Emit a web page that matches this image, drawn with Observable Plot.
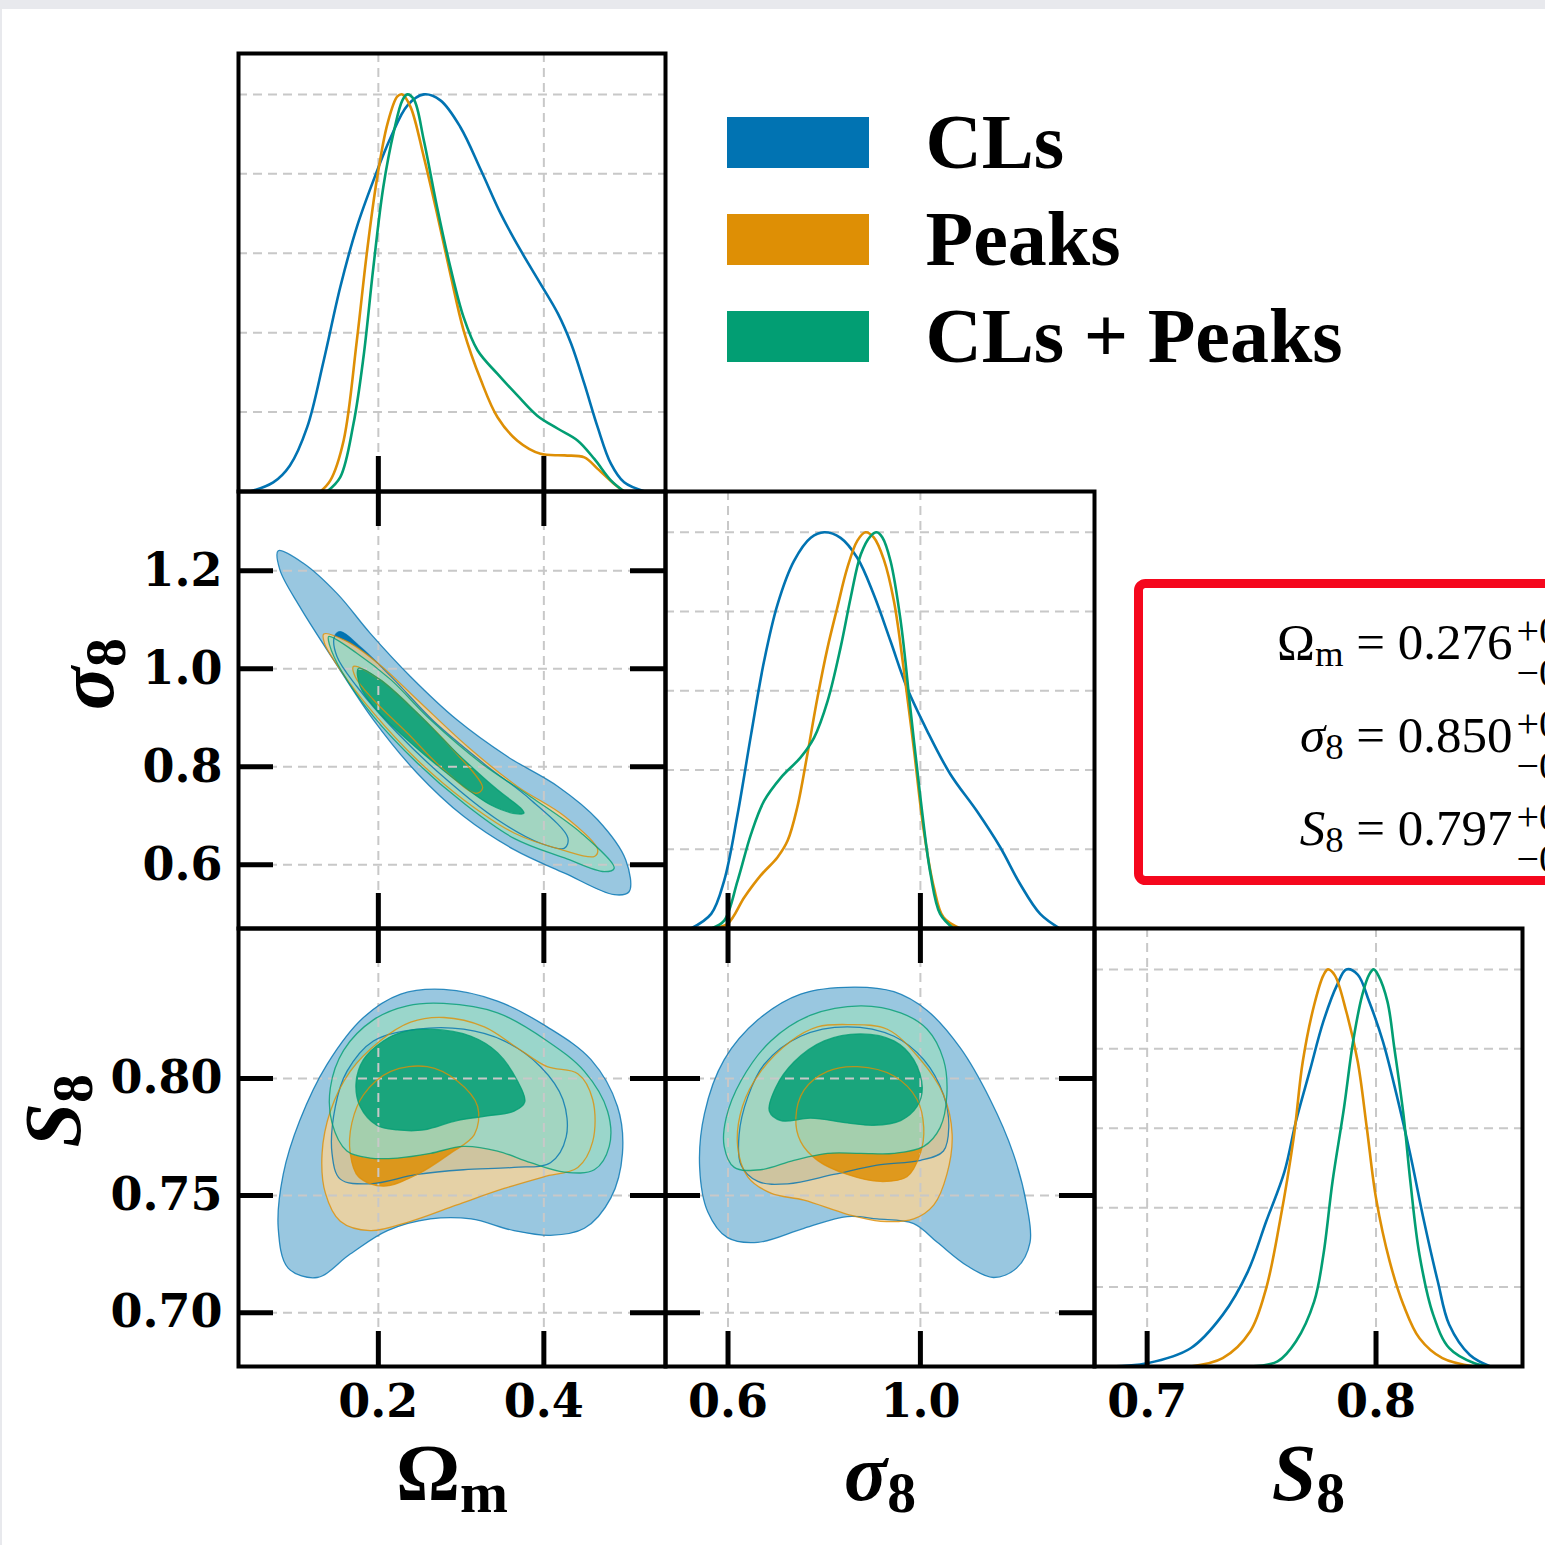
<!DOCTYPE html>
<html>
<head>
<meta charset="utf-8">
<script src="https://cdn.jsdelivr.net/npm/d3@7"></script>
<script src="https://cdn.jsdelivr.net/npm/@observablehq/plot@0.6"></script>
<style>
  html, body { margin: 0; padding: 0; overflow: hidden; background: #e8e9ed; }
  #page { position: relative; width: 1545px; height: 1545px; }
  #sheet { position: absolute; left: 2px; top: 9px; right: 0; bottom: 0; background: #ffffff; }
  #page svg { position: absolute; overflow: visible; max-width: none; }
</style>
</head>
<body>
<div id="page"><div id="sheet"></div></div>
<script>
// ---------------------------------------------------------------
// Samples and palette
// ---------------------------------------------------------------
const series = ["CLs", "Peaks", "CLs + Peaks"];
const seriesColors = ["#0173b2", "#de8f05", "#029e73"];

// Parameter ranges
const omDomain = [0.031, 0.547];
const sigDomain = [0.470, 1.362];
const s8Domain = [0.677, 0.864];
const densDomain = [0, 1.103];

// Ticks
const omTicks = [0.2, 0.4];
const sigTicksX = [0.6, 1.0];
const sigTicksY = [0.6, 0.8, 1.0, 1.2];
const s8TicksY = [0.70, 0.75, 0.80];
const s8TicksX = [0.7, 0.8];
const densGrid = [0.2, 0.4, 0.6, 0.8, 1.0];

// Marginal posteriors (normalised to peak = 1): [value, density]
const omDens_CLs = [[0.045,0],[0.073,0.023],[0.093,0.065],[0.114,0.162],[0.134,0.330],[0.154,0.515],[0.174,0.666],[0.194,0.783],[0.215,0.892],[0.235,0.972],[0.255,1.0],[0.275,0.985],[0.299,0.918],[0.324,0.809],[0.348,0.699],[0.372,0.607],[0.396,0.523],[0.417,0.448],[0.433,0.372],[0.449,0.271],[0.465,0.162],[0.481,0.070],[0.497,0.023],[0.522,0]];
const omDens_Peaks = [[0.130,0],[0.142,0.028],[0.158,0.128],[0.174,0.380],[0.186,0.599],[0.198,0.783],[0.211,0.926],[0.223,0.995],[0.229,1.0],[0.239,0.968],[0.255,0.842],[0.271,0.699],[0.287,0.548],[0.303,0.406],[0.324,0.280],[0.344,0.187],[0.368,0.128],[0.396,0.095],[0.425,0.091],[0.449,0.086],[0.465,0.057],[0.485,0.019],[0.497,0]];
const omDens_Both = [[0.138,0],[0.154,0.036],[0.170,0.171],[0.182,0.338],[0.194,0.565],[0.206,0.767],[0.219,0.909],[0.229,0.985],[0.235,1.0],[0.243,0.987],[0.255,0.884],[0.271,0.716],[0.287,0.565],[0.303,0.439],[0.320,0.355],[0.344,0.296],[0.368,0.242],[0.392,0.191],[0.417,0.158],[0.441,0.128],[0.461,0.082],[0.481,0.028],[0.497,0]];

const sigDens_CLs = [[0.523,0],[0.565,0.037],[0.592,0.121],[0.620,0.289],[0.648,0.490],[0.675,0.675],[0.703,0.818],[0.737,0.927],[0.772,0.986],[0.800,1.0],[0.834,0.986],[0.869,0.935],[0.903,0.843],[0.938,0.725],[0.972,0.608],[1.014,0.499],[1.062,0.390],[1.117,0.297],[1.166,0.205],[1.207,0.113],[1.249,0.037],[1.290,0]];
const sigDens_Peaks = [[0.565,0],[0.599,0.012],[0.634,0.079],[0.668,0.134],[0.703,0.180],[0.724,0.222],[0.744,0.306],[0.765,0.440],[0.786,0.583],[0.807,0.709],[0.827,0.809],[0.848,0.910],[0.869,0.979],[0.886,1.0],[0.903,0.987],[0.924,0.931],[0.945,0.826],[0.965,0.658],[0.986,0.457],[1.007,0.247],[1.028,0.104],[1.048,0.028],[1.083,0]];
const sigDens_Both = [[0.565,0],[0.592,0.020],[0.620,0.121],[0.648,0.239],[0.675,0.322],[0.710,0.381],[0.751,0.432],[0.779,0.482],[0.807,0.574],[0.834,0.709],[0.855,0.835],[0.876,0.944],[0.896,0.990],[0.909,1.0],[0.921,0.987],[0.938,0.927],[0.959,0.776],[0.979,0.557],[1.000,0.331],[1.021,0.138],[1.041,0.037],[1.069,0]];

const s8Dens_CLs = [[0.684,0],[0.700,0.008],[0.719,0.046],[0.733,0.130],[0.744,0.239],[0.752,0.365],[0.760,0.491],[0.765,0.617],[0.771,0.743],[0.777,0.869],[0.783,0.961],[0.787,1.0],[0.792,0.987],[0.797,0.919],[0.803,0.819],[0.809,0.684],[0.815,0.533],[0.821,0.365],[0.827,0.214],[0.832,0.105],[0.841,0.029],[0.850,0]];
const s8Dens_Peaks = [[0.719,0],[0.733,0.021],[0.745,0.088],[0.752,0.197],[0.758,0.365],[0.764,0.575],[0.768,0.768],[0.773,0.911],[0.777,0.985],[0.779,1.0],[0.782,0.985],[0.787,0.894],[0.792,0.768],[0.796,0.600],[0.800,0.424],[0.806,0.264],[0.812,0.155],[0.819,0.071],[0.829,0.021],[0.843,0]];
const s8Dens_Both = [[0.745,0],[0.757,0.013],[0.765,0.063],[0.773,0.164],[0.777,0.281],[0.781,0.466],[0.786,0.651],[0.790,0.819],[0.794,0.936],[0.797,0.987],[0.799,1.0],[0.801,0.985],[0.805,0.919],[0.808,0.802],[0.812,0.634],[0.815,0.466],[0.819,0.281],[0.825,0.130],[0.832,0.046],[0.843,0.008],[0.850,0]];

// 68% and 95% credible contours: Omega_m vs sigma_8
const omSig_CLs_95 = [[0.079,1.241],[0.109,1.216],[0.150,1.154],[0.190,1.073],[0.239,0.984],[0.295,0.896],[0.356,0.821],[0.417,0.760],[0.465,0.692],[0.499,0.610],[0.503,0.545],[0.485,0.539],[0.425,0.583],[0.364,0.631],[0.303,0.699],[0.247,0.787],[0.194,0.896],[0.146,1.018],[0.105,1.127],[0.081,1.202]];
const omSig_CLs_68 = [[0.154,1.076],[0.180,1.042],[0.219,0.978],[0.267,0.893],[0.328,0.806],[0.384,0.733],[0.429,0.655],[0.425,0.634],[0.396,0.644],[0.344,0.692],[0.283,0.773],[0.223,0.869],[0.174,0.964],[0.150,1.025],[0.147,1.066]];
const omSig_Peaks_95 = [[0.134,1.071],[0.162,1.056],[0.202,1.008],[0.247,0.937],[0.308,0.841],[0.368,0.760],[0.425,0.699],[0.465,0.631],[0.461,0.617],[0.421,0.631],[0.364,0.665],[0.303,0.733],[0.247,0.814],[0.194,0.910],[0.154,0.998],[0.135,1.052]];
const omSig_Peaks_68 = [[0.170,1.005],[0.202,0.978],[0.247,0.910],[0.287,0.841],[0.326,0.757],[0.318,0.746],[0.279,0.794],[0.235,0.869],[0.194,0.937],[0.172,0.984]];
const omSig_Both_95 = [[0.140,1.066],[0.174,1.032],[0.215,0.978],[0.263,0.896],[0.324,0.808],[0.384,0.739],[0.445,0.665],[0.485,0.593],[0.473,0.586],[0.425,0.614],[0.364,0.654],[0.303,0.726],[0.247,0.808],[0.194,0.903],[0.156,0.994],[0.141,1.049]];
const omSig_Both_68 = [[0.176,1.001],[0.202,0.978],[0.247,0.910],[0.295,0.828],[0.344,0.753],[0.372,0.716],[0.376,0.706],[0.368,0.704],[0.336,0.722],[0.283,0.787],[0.235,0.855],[0.198,0.916],[0.178,0.964]];

// Omega_m vs S_8
const omS8_CLs_95 = [[0.279,0.838],[0.344,0.833],[0.404,0.822],[0.457,0.808],[0.489,0.788],[0.495,0.768],[0.481,0.749],[0.449,0.736],[0.408,0.733],[0.364,0.735],[0.312,0.740],[0.263,0.740],[0.211,0.735],[0.166,0.725],[0.126,0.715],[0.091,0.719],[0.079,0.736],[0.085,0.759],[0.105,0.782],[0.138,0.806],[0.182,0.826],[0.227,0.836]];
const omS8_CLs_68 = [[0.144,0.768],[0.148,0.788],[0.162,0.803],[0.194,0.816],[0.247,0.821],[0.303,0.821],[0.352,0.816],[0.396,0.805],[0.423,0.791],[0.427,0.775],[0.408,0.764],[0.364,0.762],[0.303,0.761],[0.247,0.759],[0.190,0.755],[0.154,0.757]];
const omS8_Peaks_95 = [[0.279,0.826],[0.328,0.822],[0.368,0.813],[0.404,0.805],[0.441,0.802],[0.459,0.791],[0.459,0.773],[0.441,0.762],[0.400,0.758],[0.352,0.753],[0.295,0.746],[0.239,0.739],[0.190,0.735],[0.154,0.739],[0.136,0.751],[0.132,0.768],[0.142,0.786],[0.166,0.803],[0.202,0.816],[0.239,0.824]];
const omS8_Peaks_68 = [[0.259,0.805],[0.295,0.799],[0.320,0.788],[0.316,0.776],[0.287,0.768],[0.247,0.759],[0.206,0.754],[0.176,0.758],[0.166,0.768],[0.168,0.781],[0.182,0.793],[0.215,0.803]];
const omS8_Both_95 = [[0.279,0.832],[0.344,0.828],[0.404,0.816],[0.449,0.803],[0.477,0.786],[0.479,0.771],[0.461,0.761],[0.425,0.760],[0.384,0.764],[0.344,0.769],[0.303,0.771],[0.263,0.768],[0.223,0.766],[0.190,0.766],[0.162,0.769],[0.144,0.781],[0.142,0.796],[0.158,0.812],[0.194,0.825],[0.235,0.831]];
const omS8_Both_68 = [[0.263,0.821],[0.312,0.818],[0.344,0.811],[0.368,0.799],[0.377,0.790],[0.364,0.786],[0.332,0.784],[0.295,0.782],[0.255,0.778],[0.223,0.778],[0.198,0.780],[0.178,0.788],[0.173,0.798],[0.182,0.808],[0.206,0.816],[0.231,0.820]];

// sigma_8 vs S_8
const sigS8_CLs_95 = [[0.862,0.839],[0.945,0.837],[1.014,0.829],[1.083,0.813],[1.145,0.791],[1.193,0.768],[1.221,0.746],[1.228,0.730],[1.200,0.719],[1.152,0.715],[1.097,0.720],[1.035,0.730],[0.986,0.738],[0.910,0.740],[0.848,0.741],[0.758,0.736],[0.662,0.730],[0.599,0.732],[0.558,0.743],[0.541,0.762],[0.551,0.785],[0.592,0.808],[0.662,0.825],[0.751,0.836]];
const sigS8_CLs_68 = [[0.848,0.822],[0.945,0.818],[1.007,0.808],[1.048,0.793],[1.059,0.779],[1.048,0.769],[1.000,0.765],[0.910,0.763],[0.820,0.759],[0.724,0.755],[0.662,0.756],[0.627,0.763],[0.623,0.776],[0.641,0.792],[0.675,0.806],[0.751,0.818]];
const sigS8_Peaks_95 = [[0.848,0.823],[0.931,0.821],[1.000,0.808],[1.048,0.793],[1.066,0.776],[1.055,0.759],[1.028,0.746],[0.986,0.740],[0.917,0.739],[0.848,0.742],[0.758,0.748],[0.689,0.751],[0.641,0.758],[0.620,0.771],[0.630,0.788],[0.668,0.803],[0.731,0.816],[0.786,0.822]];
const sigS8_Peaks_68 = [[0.869,0.805],[0.945,0.801],[0.993,0.791],[1.007,0.779],[1.000,0.768],[0.972,0.758],[0.917,0.756],[0.848,0.759],[0.786,0.765],[0.751,0.773],[0.741,0.783],[0.758,0.795],[0.807,0.803]];
const sigS8_Both_95 = [[0.876,0.831],[0.959,0.828],[1.014,0.821],[1.048,0.808],[1.055,0.793],[1.041,0.779],[1.007,0.771],[0.945,0.768],[0.876,0.768],[0.807,0.768],[0.737,0.765],[0.668,0.761],[0.613,0.762],[0.592,0.771],[0.596,0.783],[0.627,0.799],[0.689,0.816],[0.772,0.827]];
const sigS8_Both_68 = [[0.876,0.819],[0.945,0.816],[0.986,0.808],[1.004,0.796],[0.993,0.788],[0.959,0.782],[0.903,0.780],[0.848,0.781],[0.772,0.783],[0.710,0.782],[0.686,0.786],[0.699,0.796],[0.737,0.807],[0.800,0.816]];

// Summary statistics
const statLabels = ["Ω_{m}", "*σ*_{8}", "*S*_{8}"];
const statValues = [0.276, 0.850, 0.797];

// ---------------------------------------------------------------
// Layout of the triangle grid (page pixels)
// ---------------------------------------------------------------
const colX = [238, 665, 1094, 1522];
const rowY = [53, 491, 928, 1366];
const TICK = 35, TICKW = 5;
const tickFont = {fontSize: 46, fontWeight: "bold", fontFamily: "DejaVu Serif"};
const titleFont = {fontSize: 80, fontWeight: "bold", fontFamily: "Liberation Serif"};
const gridStyle = {stroke: "#c8c8c8", strokeOpacity: 1, strokeWidth: 2, strokeDasharray: "9,6"};
const pale = c => d3.interpolateRgb(c, "#ffffff")(0.6);

const page = document.getElementById("page");

// Turn "_{..}", "^{..}" and "*..*" markup into SVG tspans
function richText(svg) {
  for (const t of svg.querySelectorAll("text")) {
    const s = t.textContent;
    if (!/[_^]\{|\*/.test(s)) continue;
    const holder = t.closest("[font-size]");
    const fs = holder ? parseFloat(holder.getAttribute("font-size")) : 16;
    const parts = s.split(/(_\{[^}]*\}|\^\{[^}]*\}|\*[^*]+\*)/).filter(p => p);
    t.textContent = "";
    let shift = 0;
    for (const p of parts) {
      const ts = document.createElementNS("http://www.w3.org/2000/svg", "tspan");
      let target = 0, txt = p;
      if (p.startsWith("_{")) { target = 0.15 * fs; txt = p.slice(2, -1); ts.setAttribute("font-size", 0.72 * fs); }
      else if (p.startsWith("^{")) { target = -0.4 * fs; txt = p.slice(2, -1); ts.setAttribute("font-size", 0.72 * fs); }
      else if (p.startsWith("*")) { txt = p.slice(1, -1); ts.setAttribute("font-style", "italic"); }
      if (target !== shift) ts.setAttribute("dy", target - shift);
      shift = target;
      ts.textContent = txt;
      t.appendChild(ts);
    }
  }
}

function place(svg, left, top) {
  svg.style.left = left + "px";
  svg.style.top = top + "px";
  page.appendChild(svg);
}

function drawPanel(col, row, xDomain, yDomain, marks) {
  const width = colX[col + 1] - colX[col];
  const height = rowY[row + 1] - rowY[row];
  const svg = Plot.plot({
    width, height, margin: 0,
    x: {domain: xDomain, axis: null},
    y: {domain: yDomain, axis: null},
    style: {background: "transparent", overflow: "visible"},
    marks: marks(width, height)
  });
  richText(svg);
  place(svg, colX[col], rowY[row]);
}

const ticksBottom = (v, h) => Plot.tickX(v, {x: d => d, stroke: "#000", strokeWidth: TICKW, insetTop: h - TICK});
const ticksTop = (v, h) => Plot.tickX(v, {x: d => d, stroke: "#000", strokeWidth: TICKW, insetBottom: h - TICK});
const ticksLeft = (v, w) => Plot.tickY(v, {y: d => d, stroke: "#000", strokeWidth: TICKW, insetRight: w - TICK});
const ticksRight = (v, w) => Plot.tickY(v, {y: d => d, stroke: "#000", strokeWidth: TICKW, insetLeft: w - TICK});
const frame = () => Plot.frame({stroke: "#000", strokeWidth: 4});

const xy = {x: d => d[0], y: d => d[1]};
const curveLine = (data, i) => Plot.line(data, {...xy, stroke: seriesColors[i], strokeWidth: 2.6, curve: "catmull-rom"});

function contourMarks(sets) {
  // sets: [[outer, inner], ...] in draw order CLs, Peaks, CLs + Peaks
  const fills = [], lines = [];
  sets.forEach(([outer, inner], i) => {
    const a = i === 0 ? 1 : 0.85;
    fills.push(Plot.line(outer, {...xy, curve: "catmull-rom-closed", fill: pale(seriesColors[i]), fillOpacity: a, stroke: "none"}));
    fills.push(Plot.line(inner, {...xy, curve: "catmull-rom-closed", fill: seriesColors[i], fillOpacity: a, stroke: "none"}));
    for (const poly of [outer, inner]) {
      lines.push(Plot.line(poly, {...xy, curve: "catmull-rom-closed", stroke: seriesColors[i], strokeWidth: 1.3, strokeOpacity: 0.8}));
    }
  });
  return {fills, lines};
}

const xLabels = (v, fmt) => Plot.axisX(v, {anchor: "bottom", tickSize: 0, tickPadding: 18, tickFormat: fmt, label: null, ...tickFont});
const yLabels = (v, fmt) => Plot.axisY(v, {anchor: "left", tickSize: 0, tickPadding: 16, tickFormat: fmt, label: null, ...tickFont});
const xTitle = t => Plot.text([t], {text: d => d, frameAnchor: "bottom", dy: 108, lineAnchor: "middle", ...titleFont});
const yTitle = (t, dx) => Plot.text([t], {text: d => d, frameAnchor: "left", dx, rotate: -90, lineAnchor: "middle", ...titleFont});

// ---------------------------------------------------------------
// Diagonal: 1D marginals
// ---------------------------------------------------------------
drawPanel(0, 0, omDomain, densDomain, (w, h) => [
  Plot.gridX(omTicks, gridStyle), Plot.gridY(densGrid, gridStyle),
  curveLine(omDens_CLs, 0), curveLine(omDens_Peaks, 1), curveLine(omDens_Both, 2),
  ticksBottom(omTicks, h), frame()
]);

drawPanel(1, 1, sigDomain, densDomain, (w, h) => [
  Plot.gridX(sigTicksX, gridStyle), Plot.gridY(densGrid, gridStyle),
  curveLine(sigDens_CLs, 0), curveLine(sigDens_Peaks, 1), curveLine(sigDens_Both, 2),
  ticksBottom(sigTicksX, h), frame()
]);

drawPanel(2, 2, s8Domain, densDomain, (w, h) => [
  Plot.gridX(s8TicksX, gridStyle), Plot.gridY(densGrid, gridStyle),
  curveLine(s8Dens_CLs, 0), curveLine(s8Dens_Peaks, 1), curveLine(s8Dens_Both, 2),
  ticksBottom(s8TicksX, h), frame(),
  xLabels(s8TicksX, ".1f"), xTitle("*S*_{8}")
]);

// ---------------------------------------------------------------
// Off-diagonal: 2D contours
// ---------------------------------------------------------------
{
  const c = contourMarks([[omSig_CLs_95, omSig_CLs_68], [omSig_Peaks_95, omSig_Peaks_68], [omSig_Both_95, omSig_Both_68]]);
  drawPanel(0, 1, omDomain, sigDomain, (w, h) => [
    ...c.fills,
    Plot.gridX(omTicks, gridStyle), Plot.gridY(sigTicksY, gridStyle),
    ...c.lines,
    ticksTop(omTicks, h), ticksBottom(omTicks, h), ticksLeft(sigTicksY, w), ticksRight(sigTicksY, w),
    frame(),
    yLabels(sigTicksY, ".1f"), yTitle("*σ*_{8}", -151)
  ]);
}
{
  const c = contourMarks([[omS8_CLs_95, omS8_CLs_68], [omS8_Peaks_95, omS8_Peaks_68], [omS8_Both_95, omS8_Both_68]]);
  drawPanel(0, 2, omDomain, s8Domain, (w, h) => [
    ...c.fills,
    Plot.gridX(omTicks, gridStyle), Plot.gridY(s8TicksY, gridStyle),
    ...c.lines,
    ticksTop(omTicks, h), ticksBottom(omTicks, h), ticksLeft(s8TicksY, w), ticksRight(s8TicksY, w),
    frame(),
    xLabels(omTicks, ".1f"), yLabels(s8TicksY, ".2f"),
    xTitle("Ω_{m}"), yTitle("*S*_{8}", -184)
  ]);
}
{
  const c = contourMarks([[sigS8_CLs_95, sigS8_CLs_68], [sigS8_Peaks_95, sigS8_Peaks_68], [sigS8_Both_95, sigS8_Both_68]]);
  drawPanel(1, 2, sigDomain, s8Domain, (w, h) => [
    ...c.fills,
    Plot.gridX(sigTicksX, gridStyle), Plot.gridY(s8TicksY, gridStyle),
    ...c.lines,
    ticksTop(sigTicksX, h), ticksBottom(sigTicksX, h), ticksLeft(s8TicksY, w), ticksRight(s8TicksY, w),
    frame(),
    xLabels(sigTicksX, ".1f"), xTitle("*σ*_{8}")
  ]);
}

// ---------------------------------------------------------------
// Legend
// ---------------------------------------------------------------
{
  const svg = Plot.plot({
    width: 800, height: 420, margin: 0,
    x: {type: "band", domain: ["swatch"], range: [27, 169], padding: 0, axis: null},
    y: {type: "band", domain: series, range: [69.5, 408.5], padding: 0.477, axis: null},
    color: {domain: series, range: seriesColors},
    style: {background: "transparent", overflow: "visible"},
    marks: [
      Plot.cell(series, {x: () => "swatch", y: d => d, fill: d => d, inset: 0}),
      Plot.text(series, {x: () => "swatch", y: d => d, text: d => d, dx: 127, textAnchor: "start",
        lineAnchor: "middle", fontSize: 78, fontWeight: "bold", fontFamily: "Liberation Serif", fill: "#000"})
    ]
  });
  place(svg, 700, 0);
}

// ---------------------------------------------------------------
// Summary box
// ---------------------------------------------------------------
{
  const boxFont = {fontFamily: "Liberation Serif", fill: "#000"};
  const svg = Plot.plot({
    width: 520, height: 297, margin: 0,
    y: {type: "point", domain: statLabels, range: [58, 245], padding: 0, axis: null},
    style: {background: "transparent", overflow: "visible"},
    marks: [
      Plot.frame({stroke: "#f5071d", strokeWidth: 9, rx: 7}),
      Plot.text(statLabels, {y: d => d, frameAnchor: "left", dx: 374, textAnchor: "end", lineAnchor: "middle",
        text: (d, i) => `${d} = ${statValues[i].toFixed(3)}`, fontSize: 51, ...boxFont}),
      Plot.text(statLabels, {y: d => d, frameAnchor: "left", dx: 378, dy: -11, textAnchor: "start", lineAnchor: "middle",
        text: () => "+0", fontSize: 40, ...boxFont}),
      Plot.text(statLabels, {y: d => d, frameAnchor: "left", dx: 378, dy: 31, textAnchor: "start", lineAnchor: "middle",
        text: () => "−0", fontSize: 40, ...boxFont})
    ]
  });
  richText(svg);
  place(svg, 1138, 583);
}
</script>
</body>
</html>
